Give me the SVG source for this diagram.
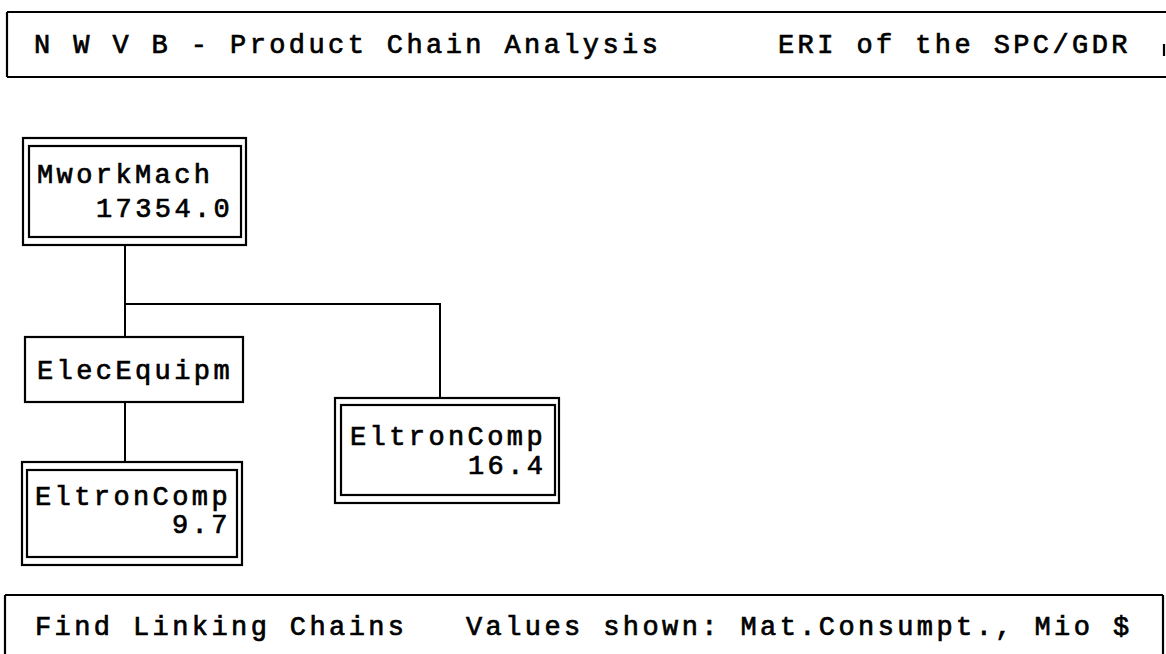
<svg xmlns="http://www.w3.org/2000/svg" width="1166" height="654" viewBox="0 0 1166 654">
  <style>
    .frame { fill: none; stroke: #000; stroke-width: 2.2; }
    .box { fill: #fff; stroke: #000; stroke-width: 2.2; }
    .link { fill: none; stroke: #000; stroke-width: 2; }
    .t { font-family: "Liberation Mono", "Courier New", monospace; font-size: 27px; letter-spacing: 3.4px; fill: #000; stroke: #000; stroke-width: 0.7; }
  </style>
  <rect width="1166" height="654" fill="#fff"/>

  <!-- title bar -->
  <g id="header">
    <path class="frame" d="M7,12 H1166 M7,77 H1166 M7,12 V77 M1164,44 V56"/>
    <text class="t" x="34" y="53">N W V B - Product Chain Analysis</text>
    <text class="t" x="778" y="53">ERI of the SPC/GDR</text>
  </g>

  <!-- tree connectors -->
  <g id="connectors">
    <path class="link" d="M125,245 V337"/>
    <path class="link" d="M125,304 H440 V398"/>
    <path class="link" d="M125,402 V462"/>
  </g>

  <g id="node-mworkmach">
    <rect class="box" x="23" y="138" width="223" height="107"/>
    <rect class="box" x="29" y="146" width="212" height="91"/>
    <text class="t" x="37" y="183">MworkMach</text>
    <text class="t" x="96" y="217">17354.0</text>
  </g>

  <g id="node-elecequipm">
    <rect class="box" x="25" y="337" width="218" height="65"/>
    <text class="t" x="37" y="379">ElecEquipm</text>
  </g>

  <g id="node-eltroncomp-1">
    <rect class="box" x="22" y="462" width="220" height="103"/>
    <rect class="box" x="27" y="470" width="210" height="87"/>
    <text class="t" x="35" y="505">EltronComp</text>
    <text class="t" x="172" y="533">9.7</text>
  </g>

  <g id="node-eltroncomp-2">
    <rect class="box" x="335" y="398" width="224" height="105"/>
    <rect class="box" x="341" y="405" width="214" height="90"/>
    <text class="t" x="350" y="445">EltronComp</text>
    <text class="t" x="468" y="474">16.4</text>
  </g>

  <!-- status bar -->
  <g id="footer">
    <path class="frame" d="M5,595 H1163 M5,595 V654 M1163,595 V654"/>
    <text class="t" x="35" y="635">Find Linking Chains</text>
    <text class="t" x="466" y="635">Values shown: Mat.Consumpt., Mio $</text>
  </g>
</svg>
